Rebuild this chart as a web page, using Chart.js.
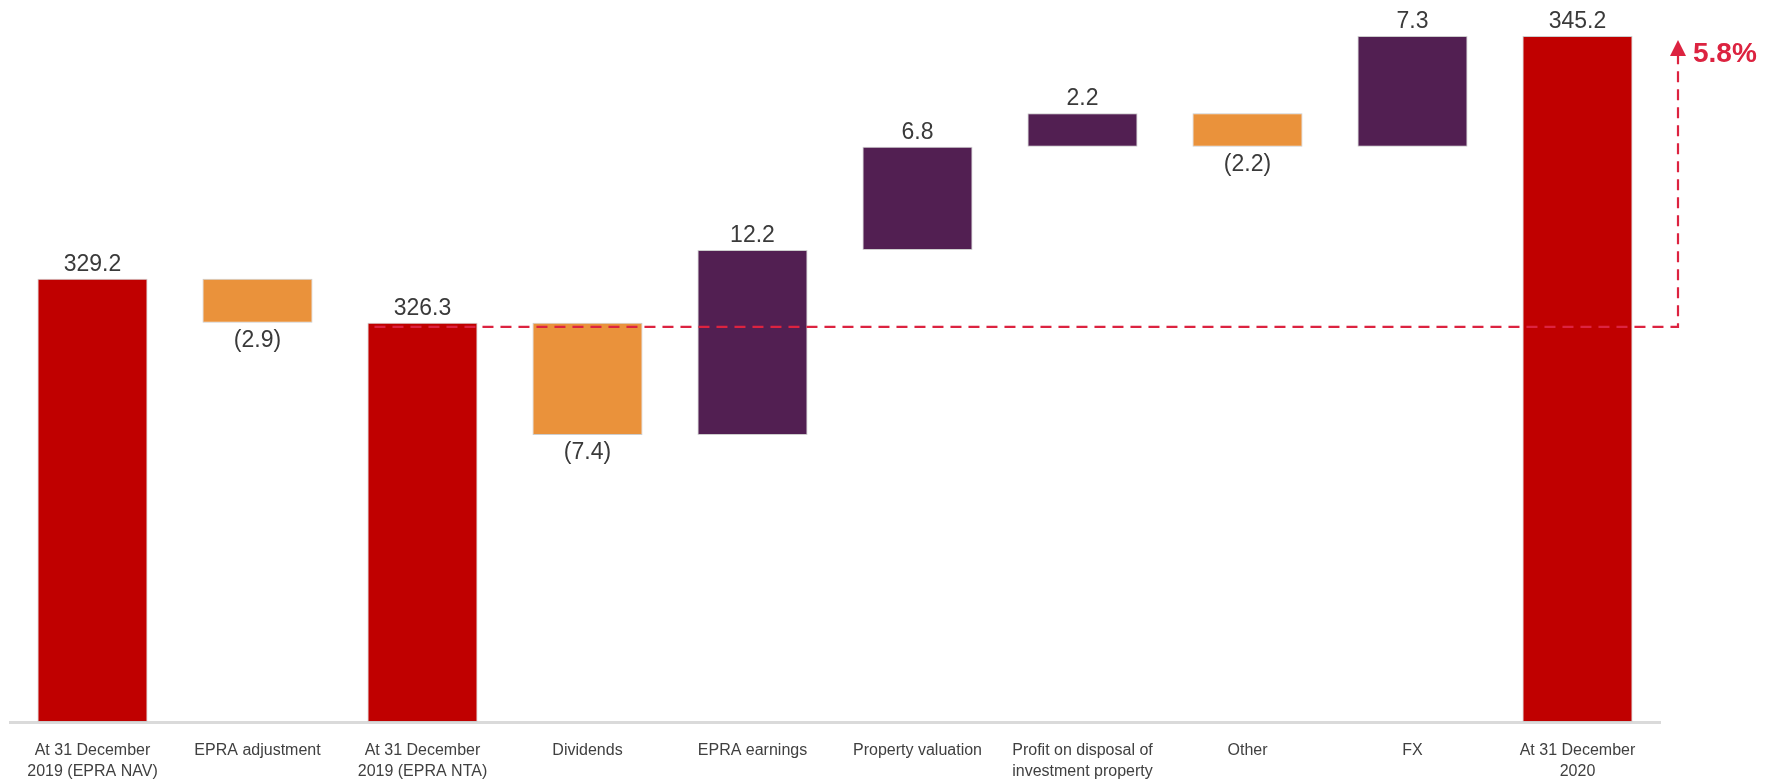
<!DOCTYPE html>
<html>
<head>
<meta charset="utf-8">
<title>NAV bridge</title>
<script src="https://cdn.jsdelivr.net/npm/chart.js@4.4.1/dist/chart.umd.min.js"></script>
<style>
  html, body { margin: 0; padding: 0; background: #fff; }
  canvas { display: block; }
</style>
</head>
<body>
<canvas id="navChart" width="1773" height="781"></canvas>
<script>
// Bridge categories, left to right
const categories = [
    ['At 31 December', '2019 (EPRA NAV)'],
    'EPRA adjustment',
    ['At 31 December', '2019 (EPRA NTA)'],
    'Dividends',
    'EPRA earnings',
    'Property valuation',
    ['Profit on disposal of', 'investment property'],
    'Other',
    'FX',
    ['At 31 December', '2020']
];

// 'total' bars stand on the axis floor, 'delta' bars float from the running total
const barKinds = ['total', 'delta', 'total', 'delta', 'delta', 'delta', 'delta', 'delta', 'delta', 'total'];
const barValues = [329.2, -2.9, 326.3, -7.4, 12.2, 6.8, 2.2, -2.2, 7.3, 345.2];

const axisMin = 300;
const axisMax = 347.5;

const COLOR_TOTAL = '#c00000';
const COLOR_UP = '#521f52';
const COLOR_DOWN = '#ea923b';
const COLOR_BRIDGE = '#dc2340';

// floating [from, to] ranges for each bar
let running = 0;
const barRanges = barValues.map((v, i) => {
    if (barKinds[i] === 'total') {
        running = v;
        return [axisMin, v];
    }
    const from = running;
    running = Math.round((running + v) * 10) / 10;
    return [from, running];
});

const barColors = barValues.map((v, i) => {
    if (barKinds[i] === 'total') return COLOR_TOTAL;
    return v >= 0 ? COLOR_UP : COLOR_DOWN;
});

function fmt(v) {
    return v < 0 ? '(' + Math.abs(v).toFixed(1) + ')' : v.toFixed(1);
}

// value labels above rising bars, below falling ones
const valueLabels = {
    id: 'valueLabels',
    afterDatasetsDraw(chart) {
        const ctx = chart.ctx;
        const meta = chart.getDatasetMeta(0);
        ctx.save();
        ctx.font = '23px "Liberation Sans", Arial, sans-serif';
        ctx.fillStyle = '#3a3a3a';
        ctx.textAlign = 'center';
        meta.data.forEach((bar, i) => {
            const top = Math.min(bar.y, bar.base);
            const bottom = Math.max(bar.y, bar.base);
            if (barValues[i] < 0) {
                ctx.textBaseline = 'top';
                ctx.fillText(fmt(barValues[i]), bar.x, bottom + 6);
            } else {
                ctx.textBaseline = 'bottom';
                ctx.fillText(fmt(barValues[i]), bar.x, top - 3);
            }
        });
        ctx.restore();
    }
};

// dashed line from the opening NTA level up to the closing total, with % change
const growthMarker = {
    id: 'growthMarker',
    afterDatasetsDraw(chart) {
        const ctx = chart.ctx;
        const y = chart.scales.y;
        const meta = chart.getDatasetMeta(0);
        const startBar = meta.data[2];
        const x0 = startBar.x - startBar.width / 2 + 7;
        const x1 = chart.chartArea.right + 18;
        const yBase = y.getPixelForValue(barValues[2]) + 4;
        const yTip = y.getPixelForValue(barValues[9]) + 4;
        const headLen = 16;

        ctx.save();
        ctx.strokeStyle = COLOR_BRIDGE;
        ctx.lineWidth = 2.2;
        ctx.setLineDash([11, 7]);
        ctx.beginPath();
        ctx.moveTo(x0, yBase);
        ctx.lineTo(x1, yBase);
        ctx.lineTo(x1, yTip + headLen);
        ctx.stroke();
        ctx.setLineDash([]);

        ctx.fillStyle = COLOR_BRIDGE;
        ctx.beginPath();
        ctx.moveTo(x1, yTip);
        ctx.lineTo(x1 + 8, yTip + headLen);
        ctx.lineTo(x1 - 8, yTip + headLen);
        ctx.closePath();
        ctx.fill();

        const pct = (barValues[9] / barValues[2] - 1) * 100;
        ctx.font = 'bold 28px "Liberation Sans", Arial, sans-serif';
        ctx.textAlign = 'left';
        ctx.textBaseline = 'middle';
        ctx.fillText(pct.toFixed(1) + '%', x1 + 15, yTip + 14);
        ctx.restore();
    }
};

const ctx = document.getElementById('navChart').getContext('2d');
const navChart = new Chart(ctx, {
    type: 'bar',
    data: {
        labels: categories,
        datasets: [{
            data: barRanges,
            backgroundColor: barColors,
            borderColor: 'rgba(200, 200, 200, 0.9)',
            borderWidth: 1,
            borderSkipped: false,
            barPercentage: 0.667,
            categoryPercentage: 1.0
        }]
    },
    options: {
        responsive: false,
        animation: false,
        devicePixelRatio: 1,
        layout: {
            padding: { left: 10, right: 113, top: 1, bottom: 0 }
        },
        scales: {
            x: {
                z: 1,
                grid: { display: false, drawTicks: false },
                border: { display: true, color: '#dadada', width: 3 },
                ticks: {
                    color: '#404040',
                    font: { family: '"Liberation Sans", Arial, sans-serif', size: 16, lineHeight: 1.3 },
                    padding: 18,
                    maxRotation: 0,
                    autoSkip: false
                },
                afterFit(scale) { scale.height = 59; }
            },
            y: {
                display: false,
                min: axisMin,
                max: axisMax
            }
        },
        plugins: {
            legend: { display: false },
            tooltip: { enabled: false }
        }
    },
    plugins: [valueLabels, growthMarker]
});
</script>
</body>
</html>
